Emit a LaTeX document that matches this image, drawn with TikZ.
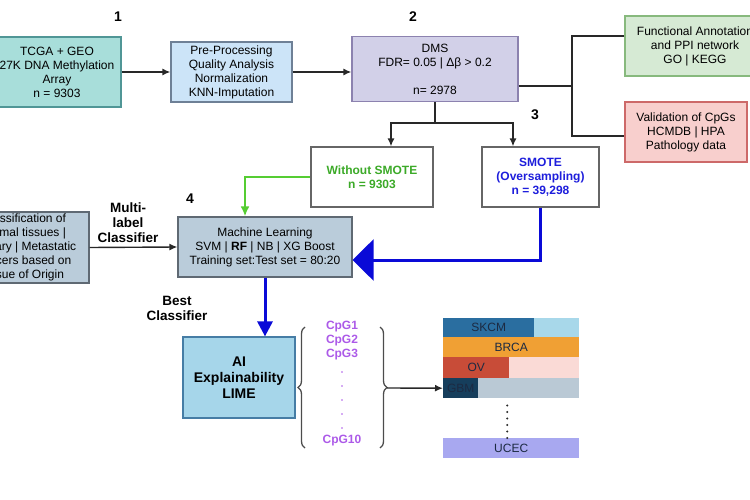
\documentclass[tikz,border=0pt]{standalone}
\usepackage{fontspec}
\setmainfont{Liberation Sans}
\usetikzlibrary{arrows.meta,decorations.pathreplacing}
\definecolor{tcgafill}{RGB}{168,222,218}
\definecolor{tcgadraw}{RGB}{80,150,150}
\definecolor{prefill}{RGB}{204,228,248}
\definecolor{predraw}{RGB}{110,128,150}
\definecolor{dmsfill}{RGB}{210,208,232}
\definecolor{dmsdraw}{RGB}{140,130,175}
\definecolor{funcfill}{RGB}{214,234,212}
\definecolor{funcdraw}{RGB}{135,185,125}
\definecolor{valfill}{RGB}{248,207,205}
\definecolor{valdraw}{RGB}{205,105,105}
\definecolor{mlfill}{RGB}{186,204,218}
\definecolor{mldraw}{RGB}{95,105,115}
\definecolor{aifill}{RGB}{166,214,234}
\definecolor{aidraw}{RGB}{70,125,165}
\definecolor{gtext}{RGB}{60,170,40}
\definecolor{gline}{RGB}{85,205,50}
\definecolor{btext}{RGB}{30,30,220}
\definecolor{bline}{RGB}{10,10,215}
\definecolor{cpgcol}{RGB}{172,90,232}
\definecolor{lnk}{RGB}{40,40,40}
\definecolor{bartext}{RGB}{28,42,66}
\definecolor{skcmdark}{RGB}{42,110,160}
\definecolor{skcmlight}{RGB}{168,216,234}
\definecolor{brcacol}{RGB}{240,160,52}
\definecolor{ovdark}{RGB}{200,76,56}
\definecolor{ovlight}{RGB}{250,218,214}
\definecolor{gbmdark}{RGB}{22,62,92}
\definecolor{gbmlight}{RGB}{186,201,213}
\definecolor{uceccol}{RGB}{168,168,240}
\begin{document}
\begin{tikzpicture}[x=1pt, y=-1pt,
    box/.style={draw, line width=1.2pt, align=center, inner sep=0pt, font=\fontsize{12}{14}\selectfont},
    num/.style={font=\fontsize{14}{16}\selectfont\bfseries},
    lbl/.style={align=center, font=\fontsize{13.5}{15}\selectfont\bfseries},
    cpg/.style={text=cpgcol, font=\fontsize{12}{14}\selectfont\bfseries},
    bar/.style={anchor=north west, inner sep=0pt, text=bartext, font=\fontsize{12}{14}\selectfont},
    arr/.style={lnk, line width=1.4pt, -{Latex[length=8pt,width=7pt]}}]
    \useasboundingbox (0,0) rectangle (750,500);
    \clip (0,0) rectangle (750,500);
    \node[num] (n1) at (118,17) {1};
    \node[num] (n2) at (413,17) {2};
    \node[num] (n3) at (535,115) {3};
    \node[num] (n4) at (190,199) {4};
    \node[box, fill=tcgafill, draw=tcgadraw, minimum width=128pt, minimum height=70pt] (tcga) at (57,72) {TCGA + GEO\\27K DNA Methylation\\Array\\n = 9303};
    \node[box, fill=prefill, draw=predraw, minimum width=121pt, minimum height=60pt] (pre) at (231.5,72) {Pre-Processing\\Quality Analysis\\Normalization\\KNN-Imputation};
    \node[box, fill=dmsfill, draw=dmsdraw, minimum width=166pt, minimum height=65pt] (dms) at (435,69) {DMS\\FDR= 0.05 | Δβ > 0.2\\[14pt]n= 2978};
    \node[box, fill=funcfill, draw=funcdraw, minimum width=140pt, minimum height=60pt] (func) at (695,46) {Functional Annotation\\and PPI network\\GO | KEGG};
    \node[box, fill=valfill, draw=valdraw, minimum width=122pt, minimum height=60pt] (valid) at (686,132) {Validation of CpGs\\HCMDB | HPA\\Pathology data};
    \node[box, fill=white, draw=gray!80!black, minimum width=122pt, minimum height=60pt, text=gtext, font=\fontsize{12}{14}\selectfont\bfseries] (without) at (372,177) {Without SMOTE\\n = 9303};
    \node[box, fill=white, draw=gray!80!black, minimum width=117pt, minimum height=60pt, text=btext, font=\fontsize{12}{14}\selectfont\bfseries] (smote) at (540.5,177) {SMOTE\\(Oversampling)\\n = 39,298};
    \node[box, fill=mlfill, draw=mldraw, minimum width=174pt, minimum height=60pt] (ml) at (265,247) {Machine Learning\\SVM | \textbf{RF} | NB | XG Boost\\Training set:Test set = 80:20};
    \node[box, fill=mlfill, draw=mldraw, minimum width=130pt, minimum height=71pt] (cls) at (24,247.5) {Classification of\\normal tissues |\\primary | Metastatic\\cancers based on\\tissue of Origin};
    \node[box, fill=aifill, draw=aidraw, minimum width=112pt, minimum height=81pt, font=\fontsize{14}{16}\selectfont\bfseries] (ai) at (239,377.5) {AI\\Explainability\\LIME};
    \node[lbl] (multi) at (128,223) {Multi-\\label\\Classifier};
    \node[lbl] (best) at (177,308) {Best\\Classifier};
    \draw[arr] (tcga.east) -- (pre.west);
    \draw[arr] (pre.east) -- (pre.east -| dms.west);
    \coordinate (fork) at (572,86);
    \draw[lnk, line width=2pt] (dms.east |- fork) -- (fork);
    \draw[lnk, line width=2pt] ([yshift=10pt]func.west) -| (fork) |- ([yshift=-4pt]valid.west);
    \coordinate (split) at (435,123);
    \draw[lnk, line width=1.4pt] (dms.south) -- (split);
    \draw[arr] (split) -| ([xshift=19pt]without.north);
    \draw[arr] (split) -| ([xshift=-27.5pt]smote.north);
    \draw[gline, line width=2.5pt, -{Latex[length=10pt,width=9pt]}] (without.west) -| ([xshift=-20pt]ml.north);
    \draw[bline, line width=3pt, -{Triangle[length=21pt,width=41pt]}] (smote.south) |- ([yshift=-13pt]ml.east);
    \draw[arr] (cls.east) -- (ml.west);
    \draw[bline, line width=3pt, -{Triangle[length=15pt,width=15pt]}] (ml.south) -- (ml.south |- ai.north);
    \draw[decorate, decoration={brace, amplitude=7pt}, line width=1.3pt, gray!60!black] (305,448) -- (305,327);
    \draw[decorate, decoration={brace, amplitude=7pt}, line width=1.3pt, gray!60!black] (380,327) -- (380,448);
    \node[cpg] (cpg1) at (342,327) {CpG1};
    \node[cpg] (cpg2) at (342,341) {CpG2};
    \node[cpg] (cpg3) at (342,355) {CpG3};
    \foreach \y in {372,386,400,414,428}
        \fill[cpgcol] (342,\y) circle (0.9pt);
    \node[cpg] (cpg10) at (342,441) {CpG10};
    \fill[skcmlight] (443,318) rectangle (579,337);
    \node[bar, fill=skcmdark, minimum width=91pt, minimum height=19pt] (skcm) at (443,318) {SKCM};
    \node[bar, fill=brcacol, minimum width=136pt, minimum height=20pt] (brca) at (443,337) {BRCA};
    \fill[ovlight] (443,357) rectangle (579,378);
    \node[bar, fill=ovdark, minimum width=66pt, minimum height=21pt] (ov) at (443,357) {OV};
    \fill[gbmlight] (443,378) rectangle (579,398);
    \node[bar, fill=gbmdark, minimum width=35pt, minimum height=20pt] (gbm) at (443,378) {GBM};
    \node[bar, fill=uceccol, minimum width=136pt, minimum height=20pt] (ucec) at (443,438) {UCEC};
    \draw[lnk, line width=2.4pt, line cap=round, dash pattern=on 0pt off 6.5pt] ([xshift=-4pt]ucec.north) -- ++(0,-37);
    \coordinate (rtip) at (387,388);
    \draw[arr] (rtip) -- (gbm.west);
\end{tikzpicture}
\end{document}
